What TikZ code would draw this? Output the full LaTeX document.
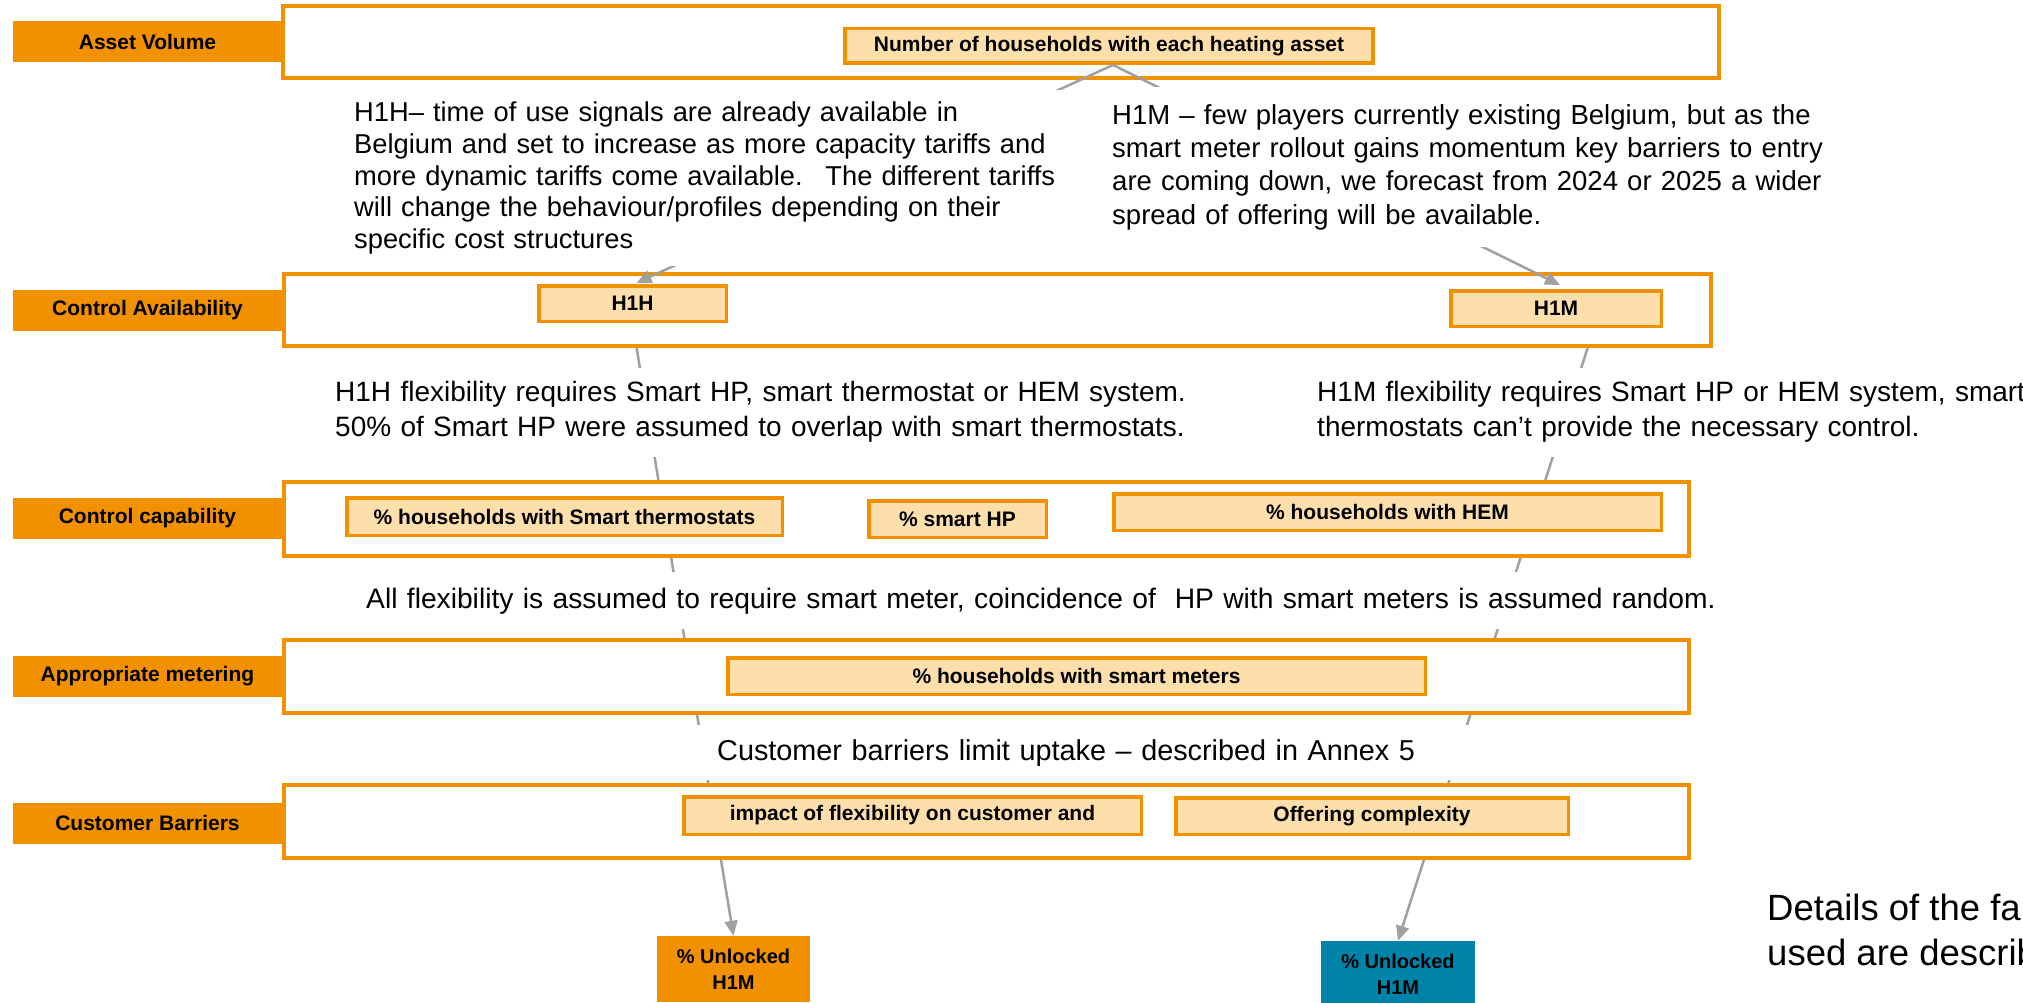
\documentclass[tikz,border=0pt]{standalone}
\usepackage{fontspec}
\setmainfont{Liberation Sans}
\usetikzlibrary{arrows.meta,calc}
\definecolor{org}{RGB}{242,145,0}
\definecolor{lite}{RGB}{253,223,172}
\definecolor{tealbox}{RGB}{0,131,168}
\definecolor{conn}{RGB}{160,160,160}
\pgfdeclarelayer{back}
\pgfsetlayers{back,main}
\tikzset{
  frame/.style={draw=org, line width=4pt, fill=white, inner sep=0pt},
  lab/.style={fill=org, inner sep=0pt, minimum width=269, minimum height=41,
    font=\fontsize{21}{25}\selectfont\bfseries},
  ibox/.style={draw=org, line width=3.5pt, fill=lite, inner sep=0pt,
    font=\fontsize{21}{25}\selectfont\bfseries},
  outbox/.style={inner sep=0pt, minimum width=153, minimum height=66, align=center,
    font=\fontsize{20}{26}\selectfont\bfseries},
  conarrow/.style={draw=conn, line width=2.5pt, -{Triangle[length=15pt,width=13pt]}},
  txt/.style={fill=white, inner ysep=0pt, inner xsep=7pt, align=left, anchor=west,
    font=\fontsize{28}{33}\selectfont},
}
\begin{document}
\begin{tikzpicture}[x=1pt,y=-1pt]
\useasboundingbox (0,0) rectangle (2023,1003);
% frames
\node[frame, minimum width=1436, minimum height=72] (f1) at (1001,42) {};
\node[frame, minimum width=1427, minimum height=72] (f2) at (997.5,310) {};
\node[frame, minimum width=1405, minimum height=74] (f3) at (986.5,519) {};
\node[frame, minimum width=1405, minimum height=73] (f4) at (986.5,676.5) {};
\node[frame, minimum width=1405, minimum height=73] (f5) at (986.5,821.5) {};
% row labels
\node[lab] (l1) at (147.5,42) {Asset Volume};
\node[lab] (l2) at (147.5,310) {Control Availability};
\node[lab] (l3) at (147.5,518) {Control capability};
\node[lab] (l4) at (147.5,676.5) {Appropriate metering};
\node[lab] (l5) at (147.5,823) {Customer Barriers};
% inner boxes
\node[ibox, minimum width=528, minimum height=34.5] (num) at (1109,46) {Number of households with each heating asset};
\node[ibox, minimum width=187.5, minimum height=35.5] (h1h) at (632.5,303.5) {H1H};
\node[ibox, minimum width=210.5, minimum height=35.5] (h1m) at (1556,308.5) {H1M};
\node[ibox, minimum width=435.5, minimum height=37.5] (therm) at (564.5,516.5) {\% households with Smart thermostats};
\node[ibox, minimum width=177.5, minimum height=36.5] (shp) at (957.5,519) {\% smart HP};
\node[ibox, minimum width=547.5, minimum height=36.5] (hem) at (1387.5,512) {\% households with HEM};
\node[ibox, minimum width=697.5, minimum height=36.5] (meters) at (1076.5,676) {\% households with smart meters};
\node[ibox, minimum width=457.5, minimum height=37.5] (impact) at (912.5,815.5) {impact of flexibility on customer and};
\node[ibox, minimum width=392.5, minimum height=36.5] (offer) at (1372,816) {Offering complexity};
% outputs
\node[outbox, fill=org] (unA) at (733.5,969) {\% Unlocked\\H1M};
\node[outbox, fill=tealbox, minimum width=154] (unB) at (1398,974) {\% Unlocked\\H1M};
% arrows from the asset volume box
\draw[conarrow] ($(num.south)+(4,0)$) -- ($(h1h.north)+(4,-1)$);
\draw[conarrow] ($(num.south)+(4,0)$) -- ($(h1m.north)+(4,-4)$);
% explanatory texts (white boxes hide the connectors behind them)
\node[txt, text width=720, minimum height=176, font=\fontsize{27.3}{31.6}\selectfont] (tH) at (347,178)
  {H1H– time of use signals are already available in\\
   Belgium and set to increase as more capacity tariffs and\\
   more dynamic tariffs come available. \ The different tariffs\\
   will change the behaviour/profiles depending on their\\
   specific cost structures};
\node[txt, text width=760, minimum height=160, font=\fontsize{27.5}{33.3}\selectfont] (tM) at (1105,167)
  {H1M – few players currently existing Belgium, but as the\\
   smart meter rollout gains momentum key barriers to entry\\
   are coming down, we forecast from 2024 or 2025 a wider\\
   spread of offering will be available.};
\node[txt, text width=880, minimum height=89, font=\fontsize{28}{35}\selectfont] (tHf) at (328,412)
  {H1H flexibility requires Smart HP, smart thermostat or HEM system.\\
   50\% of Smart HP were assumed to overlap with smart thermostats.};
\node[txt, text width=730, minimum height=89, font=\fontsize{28}{35}\selectfont] (tMf) at (1310,412)
  {H1M flexibility requires Smart HP or HEM system, smart\\
   thermostats can’t provide the necessary control.};
\node[txt, text width=1420, minimum height=57, font=\fontsize{28.2}{34}\selectfont] (tAll) at (359,600.8)
  {All flexibility is assumed to require smart meter, coincidence of \ HP with smart meters is assumed random.};
\node[txt, inner xsep=20pt, text width=745, minimum height=55, font=\fontsize{28.8}{34}\selectfont] (tCb) at (697,752.8)
  {Customer barriers limit uptake – described in Annex 5};
\node[anchor=north west, inner sep=0pt, align=left, font=\fontsize{36.5}{45}\selectfont] (det) at (1767,894)
  {Details of the fa\\used are describ};
% long connectors behind frames and texts
\begin{pgfonlayer}{back}
\draw[conarrow] (h1h.south) -- (unA.north);
\draw[conarrow] ($(h1m.south)+(38,0)$) -- (unB.north);
\end{pgfonlayer}
\end{tikzpicture}
\end{document}
